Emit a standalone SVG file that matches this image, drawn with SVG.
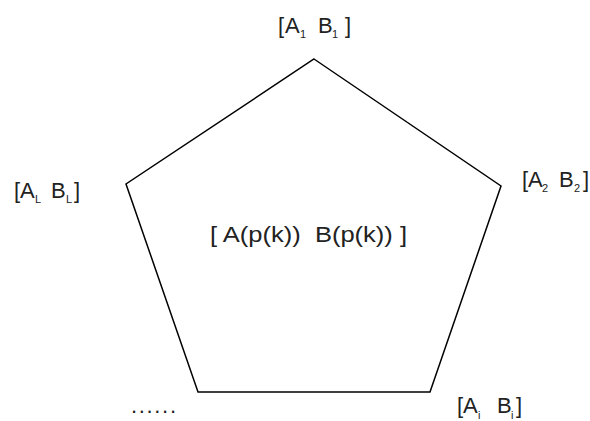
<svg xmlns="http://www.w3.org/2000/svg" width="590" height="421" viewBox="0 0 590 421">
<style>
.lbl{font-family:"Liberation Sans",Arial,sans-serif;font-size:22px;fill:#222}
.sub{font-family:"Liberation Sans",Arial,sans-serif;font-size:11px;fill:#222}
.shape{fill:none;stroke:#000;stroke-width:1.5}
</style>
<rect width="590" height="421" fill="#fff"/>
<g id="pentagon">
<polygon class="shape" points="314,59 501,186 430,392 198,392 126,184"/>
<text class="lbl" x="210" y="242" font-size="24" textLength="197" lengthAdjust="spacingAndGlyphs" xml:space="preserve">[ A(p(k))  B(p(k)) ]</text>
</g>
<g id="connectors"></g>
<g id="label-1">
<text class="lbl" x="278" y="33">[</text><text class="lbl" x="285" y="33">A</text><text class="sub" x="300" y="38">1</text>
<text class="lbl" x="318" y="33">B</text><text class="sub" x="332" y="38">1</text><text class="lbl" x="345" y="33">]</text>
</g>
<g id="label-2">
<text class="lbl" x="522" y="187">[</text><text class="lbl" x="528" y="187">A</text><text class="sub" x="542" y="192">2</text>
<text class="lbl" x="559" y="187">B</text><text class="sub" x="574" y="192">2</text><text class="lbl" x="583" y="187">]</text>
</g>
<g id="label-L">
<text class="lbl" x="14" y="198">[</text><text class="lbl" x="20" y="198">A</text><text class="sub" x="35" y="203">L</text>
<text class="lbl" x="51" y="198">B</text><text class="sub" x="66" y="203">L</text><text class="lbl" x="74" y="198">]</text>
</g>
<g id="label-i">
<text class="lbl" x="457" y="413">[</text><text class="lbl" x="463" y="413">A</text><text class="sub" x="478" y="419">i</text>
<text class="lbl" x="497" y="413">B</text><text class="sub" x="511" y="419">i</text><text class="lbl" x="516" y="413">]</text>
</g>
<g id="dots"><text class="lbl" x="131" y="413" font-size="18" textLength="45" lengthAdjust="spacing">......</text></g>
</svg>
